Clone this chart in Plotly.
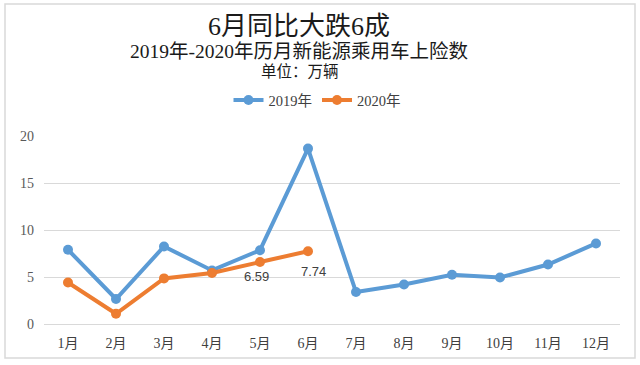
import plotly.graph_objects as go

months = ["1月", "2月", "3月", "4月", "5月", "6月", "7月", "8月", "9月", "10月", "11月", "12月"]
y2019 = [7.9, 2.66, 8.25, 5.7, 7.85, 18.66, 3.4, 4.2, 5.24, 4.95, 6.33, 8.57]
months2020 = ["1月", "2月", "3月", "4月", "5月", "6月"]
y2020 = [4.42, 1.09, 4.85, 5.42, 6.59, 7.74]
label_months = ["5月", "6月"]
label_values = [6.59, 7.74]

W, H = 640, 365
L, R, T, B = 44, 20, 136, 41
pw, ph = W - L - R, H - T - B

def px(x):
    return (x - L) / pw

def py(y):
    return (H - B - y) / ph

serif = "Liberation Serif, Noto Sans CJK SC, serif"

fig = go.Figure()
fig.add_trace(go.Scatter(
    x=months, y=y2019, name="2019年", mode="lines+markers",
    line=dict(color="#5B9BD5", width=4), marker=dict(size=10, color="#5B9BD5"),
))
fig.add_trace(go.Scatter(
    x=months2020, y=y2020, name="2020年", mode="lines+markers",
    line=dict(color="#ED7D31", width=4), marker=dict(size=10, color="#ED7D31"),
))

label_shifts = [(-4, -14), (5, -20)]
annotations = []
for m, v, (dx, dy) in zip(label_months, label_values, label_shifts):
    annotations.append(dict(
        x=m, y=v, xref="x", yref="y", text=f"{v:.2f}", showarrow=False,
        xshift=dx, yshift=dy, xanchor="center", yanchor="middle",
        font=dict(family="Liberation Sans, Noto Sans, sans-serif", size=13, color="#404040"),
    ))

annotations += [
    dict(text="6月同比大跌6成", x=px(299), y=py(26), xref="paper", yref="paper",
         showarrow=False, xanchor="center", yanchor="middle",
         font=dict(size=26, color="#1a1a1a", family=serif)),
    dict(text="2019年-2020年历月新能源乘用车上险数", x=px(299), y=py(52), xref="paper", yref="paper",
         showarrow=False, xanchor="center", yanchor="middle",
         font=dict(size=19.5, color="#1a1a1a", family=serif)),
    dict(text="单位：万辆", x=px(300), y=py(72), xref="paper", yref="paper",
         showarrow=False, xanchor="center", yanchor="middle",
         font=dict(size=15.5, color="#1a1a1a", family=serif)),
]

fig.update_layout(
    width=W, height=H,
    margin=dict(l=L, r=R, t=T, b=B),
    paper_bgcolor="white", plot_bgcolor="white",
    font=dict(family=serif, color="#595959"),
    showlegend=True,
    legend=dict(orientation="h", x=px(317), xanchor="center", y=py(100), yanchor="middle",
                font=dict(size=14.5, color="#404040", family=serif), bgcolor="rgba(0,0,0,0)",
                itemwidth=30, tracegroupgap=0),
    xaxis=dict(type="category", showgrid=False, showline=True, linecolor="#D9D9D9",
               ticks="", ticklabelstandoff=6, tickfont=dict(size=14, color="#404040", family=serif),
               range=[-0.5, 11.5], fixedrange=True),
    yaxis=dict(range=[0, 20], dtick=5, showgrid=True, gridcolor="#D9D9D9", gridwidth=1,
               zeroline=False, showline=False, ticks="", ticklabelstandoff=9,
               tickfont=dict(size=14, color="#595959", family=serif)),
    annotations=annotations,
    shapes=[
        dict(type="rect", xref="paper", yref="paper",
             x0=px(5), x1=px(635), y0=py(358), y1=py(4),
             line=dict(color="#D9D9D9", width=1.5), fillcolor="rgba(0,0,0,0)", layer="below"),
    ],
)

fig.write_html("out.html", config={"displayModeBar": False},
               post_script="document.body.style.margin='0';document.body.style.overflow='hidden';")
